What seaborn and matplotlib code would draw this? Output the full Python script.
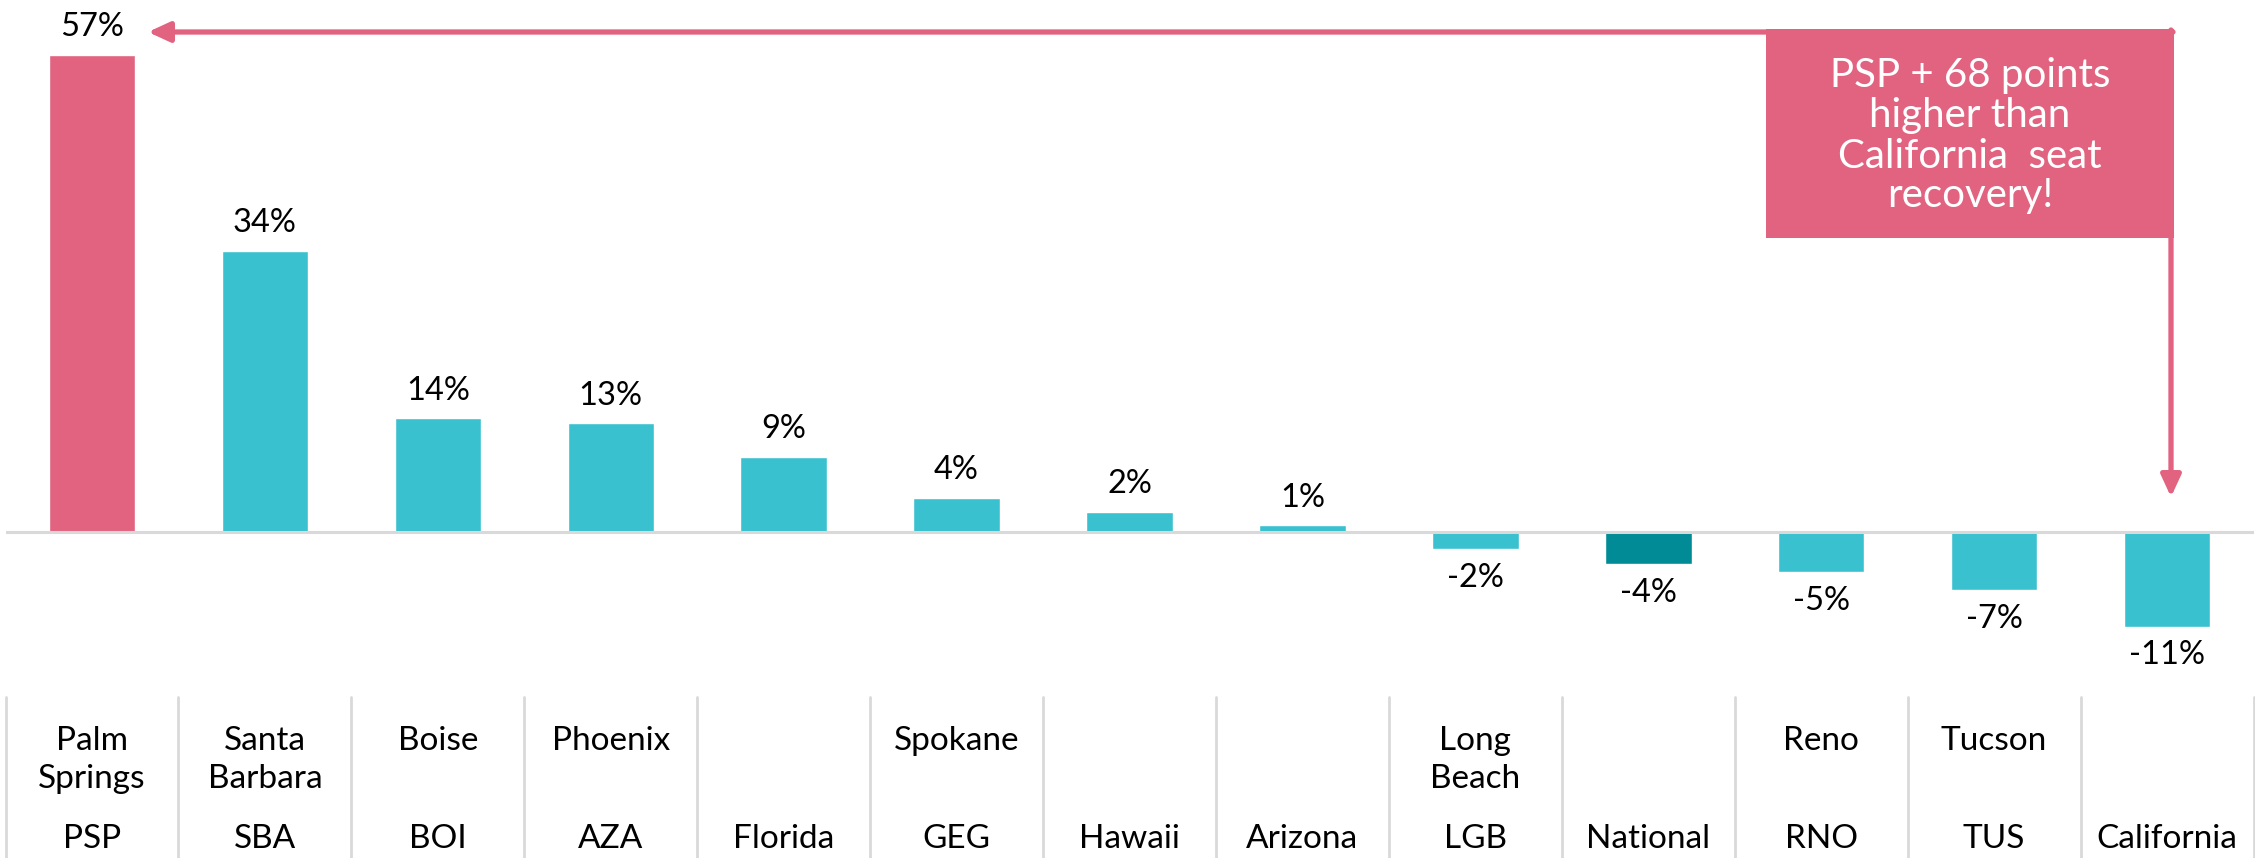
import numpy as np
import pandas as pd
import seaborn as sns
import matplotlib.pyplot as plt
from matplotlib.transforms import blended_transform_factory
from matplotlib.patches import Rectangle

# data
codes = ["PSP", "SBA", "BOI", "AZA", "Florida", "GEG", "Hawaii", "Arizona",
         "LGB", "National", "RNO", "TUS", "California"]
names = ["Palm\nSprings", "Santa\nBarbara", "Boise", "Phoenix", "", "Spokane", "", "",
         "Long\nBeach", "", "Reno", "Tucson", ""]
values = [57.0, 33.6, 13.6, 13.0, 9.0, 4.1, 2.4, 0.8, -2.0, -3.8, -4.8, -6.9, -11.3]

PINK = "#E26380"
CYAN = "#3AC1CF"
TEAL = "#008B96"
GRID = "#D9D9D9"
bar_colors = [PINK] + [CYAN] * 8 + [TEAL] + [CYAN] * 3

sns.set_theme(style="white")
plt.rcParams["font.family"] = ["Lato", "DejaVu Sans"]

W, H = 2255, 858
fig = plt.figure(figsize=(W / 100, H / 100), dpi=100)
ax = fig.add_axes([5.5 / W, 0, 2248 / W, 1])

df = pd.DataFrame({"code": codes, "value": values})
sns.barplot(data=df, x="code", y="value", hue="code", palette=bar_colors,
            legend=False, width=0.5, saturation=1, ax=ax)

px_per_pct = 8.37
ax.set_ylim(-(H - 532) / px_per_pct, 532 / px_per_pct)
ax.set_xlim(-0.5, len(codes) - 0.5)
ax.set_axis_off()
ax.axhline(0, color=GRID, lw=2.2, zorder=3)

# value labels
for i, v in enumerate(values):
    if v >= 0:
        ax.annotate(f"{round(v)}%", (i, v), xytext=(0, 9), textcoords="offset points",
                    ha="center", va="bottom", fontsize=23.5, color="black")
    else:
        ax.annotate(f"{round(v)}%", (i, v), xytext=(0, -10), textcoords="offset points",
                    ha="center", va="top", fontsize=23.5, color="black")

# table under the chart
trans = blended_transform_factory(ax.transData, ax.transAxes)
for b in np.arange(-0.5, len(codes)):
    ax.plot([b, b], [0, 1 - 697 / H], transform=trans, color=GRID, lw=2, clip_on=False)

for i, (nm, cd) in enumerate(zip(names, codes)):
    for k, line in enumerate(nm.split("\n")):
        if line:
            ax.text(i, 1 - (750 + 38 * k) / H, line, transform=trans, ha="center",
                    va="baseline", fontsize=24, color="black")
    ax.text(i, 1 - 848 / H, cd, transform=trans, ha="center", va="baseline",
            fontsize=24, color="black")

# callout box
fig.add_artist(Rectangle((1766 / W, 1 - 238 / H), (2174 - 1766) / W, (238 - 29) / H,
                         transform=fig.transFigure, facecolor=PINK, edgecolor="none"))
fig.text(1970 / W, 1 - 136 / H, "PSP + 68 points\nhigher than\nCalifornia  seat\nrecovery!",
         ha="center", va="center", fontsize=29, color="white", linespacing=1.1)

arrow_style = dict(arrowstyle="-|>,head_length=0.65,head_width=0.3", color=PINK,
                   lw=3.8, shrinkA=0, shrinkB=0, mutation_scale=20)
ax.annotate("", xy=(148, H - 32), xycoords="figure pixels",
            xytext=(2173, H - 32), textcoords="figure pixels", arrowprops=arrow_style)
ax.annotate("", xy=(2171, H - 497), xycoords="figure pixels",
            xytext=(2171, H - 30), textcoords="figure pixels", arrowprops=arrow_style)

fig.savefig("out.png", dpi=100)
